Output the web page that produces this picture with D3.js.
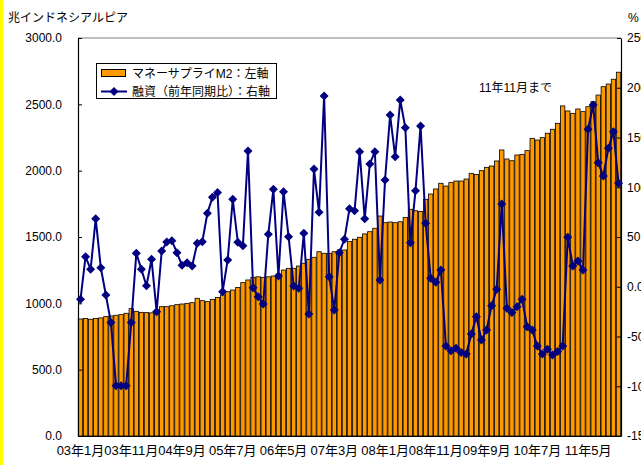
<!DOCTYPE html>
<html><head><meta charset="utf-8">
<script src="https://cdn.jsdelivr.net/npm/d3@7/dist/d3.min.js"></script>
<style>
body{margin:0;background:#fff;}
svg text{font-family:"Liberation Sans","Noto Sans CJK JP",sans-serif;fill:#000;}
</style></head>
<body>
<svg id="c" width="641" height="465"></svg>
<script>
// ---- data ----
const startYear = 2003, monthCount = 107; // 03年1月 .. 11年11月
const categories = [];
for (let i = 0; i < monthCount; i++) {
  const y = startYear + Math.floor(i / 12), m = (i % 12) + 1;
  categories.push(String(y % 100).padStart(2, "0") + "年" + m + "月");
}
const tickLabels = ["03年1月","03年11月","04年9月","05年7月","06年5月","07年3月","08年1月","08年11月","09年9月","10年7月","11年5月"];
const leftTicks = [0,500,1000,1500,2000,2500,3000];
const rightTicks = [-150,-100,-50,0,50,100,150,200,250];

const m2 = [882,885,880,885,890,900,905,910,915,925,
  960,940,932,930,928,945,975,975,982,990,
  995,1000,1005,1038,1020,1013,1030,1045,1063,1088,
  1100,1120,1156,1176,1196,1200,1196,1200,1206,1221,
  1251,1264,1264,1281,1302,1332,1347,1389,1377,1377,
  1389,1402,1402,1465,1483,1498,1523,1540,1566,1658,
  1608,1613,1608,1615,1648,1709,1698,1692,1784,1824,
  1862,1905,1884,1910,1922,1922,1937,1980,1972,2000,
  2025,2035,2073,2156,2088,2075,2118,2123,2151,2244,
  2231,2249,2282,2312,2357,2488,2450,2432,2465,2445,
  2482,2520,2570,2633,2653,2689,2742];
const loans = [-12.6,30.2,17.5,68.4,19.2,-8.3,-36,-99.4,-99.4,-99.4,
  -36,33.6,17.5,1,27.6,-25,35.9,45,46.3,34.2,
  21.5,24.2,20.9,43.6,45.3,73.8,89.9,94.6,-4.9,26.9,
  87.9,44.7,41.3,136.4,-0.9,-10,-17.3,52.7,97.9,10.8,
  95.5,50.3,0.8,-1.6,53.7,-27.4,118.3,74.8,191.7,10.1,
  -23.4,34.2,47.7,78.5,76.5,135.8,68.4,123.4,135.8,6.8,
  107.3,172.6,130.7,187.7,159.8,44.3,96.6,161.6,63.8,8.5,
  4.4,16.8,-59.5,-64.2,-61.9,-66.2,-67.6,-47.5,-30.1,-53.5,
  -43.5,-19,-2.6,83.2,-21.7,-26,-20,-12.6,-40.1,-43.5,
  -59.5,-67.6,-62.9,-68.6,-65.2,-59.5,49.7,20.9,25.9,16.8,
  158.2,182.7,124.7,111.3,139.1,155.8,104];

const seriesNames = ["マネーサプライM2：左軸","融資（前年同期比）：右軸"];
const leftTitle = "兆インドネシアルピア", rightTitle = "%", note = "11年11月まで";

// ---- drawing ----
const svg = d3.select("#c");
const L = 78, R = 621, T = 38, B = 436;
const barColor = "#FF9900", lineColor = "#000080";

svg.append("rect").attr("x",0).attr("y",0).attr("width",3).attr("height",465).attr("fill","#FFFF00");

const x = d3.scaleBand().domain(categories).range([L, R]).paddingInner(0.14).paddingOuter(0.06);
const yL = d3.scaleLinear().domain([0,3000]).range([B,T]);
const yR = d3.scaleLinear().domain([-150,250]).range([B,T]);

// bars
svg.append("g").selectAll("rect").data(m2).join("rect")
  .attr("x",(d,i)=>x(categories[i]))
  .attr("y",d=>yL(d))
  .attr("width",x.bandwidth())
  .attr("height",d=>B-yL(d))
  .attr("fill",barColor).attr("stroke","#000").attr("stroke-width",0.8);

// frame top
svg.append("line").attr("x1",L).attr("x2",R).attr("y1",T).attr("y2",T).attr("stroke","#808080").attr("stroke-width",1);

// axes
const fmt = d => d.toFixed(1);
const gl = svg.append("g").attr("transform",`translate(${L},0)`)
  .call(d3.axisLeft(yL).tickValues(leftTicks).tickFormat(fmt).tickSizeInner(-4).tickSizeOuter(0).tickPadding(16));
const gr = svg.append("g").attr("transform",`translate(${R},0)`)
  .call(d3.axisRight(yR).tickValues(rightTicks).tickFormat(fmt).tickSizeInner(-4).tickSizeOuter(0).tickPadding(6));
const gb = svg.append("g").attr("transform",`translate(0,${B})`)
  .call(d3.axisBottom(x).tickValues(tickLabels).tickSize(0).tickPadding(10));
[gl,gr,gb].forEach(g=>{
  g.selectAll("text").attr("font-size",12).attr("font-family",null);
  g.select(".domain").attr("stroke","#000").attr("stroke-width",1.2);
  g.selectAll(".tick line").attr("stroke","#000");
});
gb.selectAll("text").attr("font-size",13);
gr.selectAll("text").attr("text-anchor","start");

// line
const cx = i => x(categories[i]) + x.bandwidth()/2;
const line = d3.line().x((d,i)=>cx(i)).y(d=>yR(d));
svg.append("path").datum(loans).attr("d",line).attr("fill","none").attr("stroke",lineColor).attr("stroke-width",2);
const diamond = "M0,-4.5L4.5,0L0,4.5L-4.5,0Z";
svg.append("g").selectAll("path").data(loans).join("path")
  .attr("d",diamond).attr("transform",(d,i)=>`translate(${cx(i)},${yR(d)})`)
  .attr("fill",lineColor);

// titles
svg.append("text").attr("x",8).attr("y",22).attr("font-size",12).text(leftTitle);
svg.append("text").attr("x",628).attr("y",22).attr("font-size",12).text(rightTitle);
svg.append("text").attr("x",479).attr("y",92).attr("font-size",12).text(note);

// legend
const lg = svg.append("g");
lg.append("rect").attr("x",96.5).attr("y",63.5).attr("width",180).attr("height",35).attr("fill","#fff").attr("stroke","#000").attr("stroke-width",1);
lg.append("rect").attr("x",101.5).attr("y",69.5).attr("width",24).attr("height",7).attr("fill",barColor).attr("stroke","#000").attr("stroke-width",1);
lg.append("text").attr("x",132).attr("y",77.5).attr("font-size",12).text(seriesNames[0]);
lg.append("line").attr("x1",101).attr("x2",127).attr("y1",91.5).attr("y2",91.5).attr("stroke",lineColor).attr("stroke-width",2);
lg.append("path").attr("d",diamond).attr("transform","translate(114,91.5)").attr("fill",lineColor);
lg.append("text").attr("x",132).attr("y",95.5).attr("font-size",12).text(seriesNames[1]);
</script>
</body></html>
